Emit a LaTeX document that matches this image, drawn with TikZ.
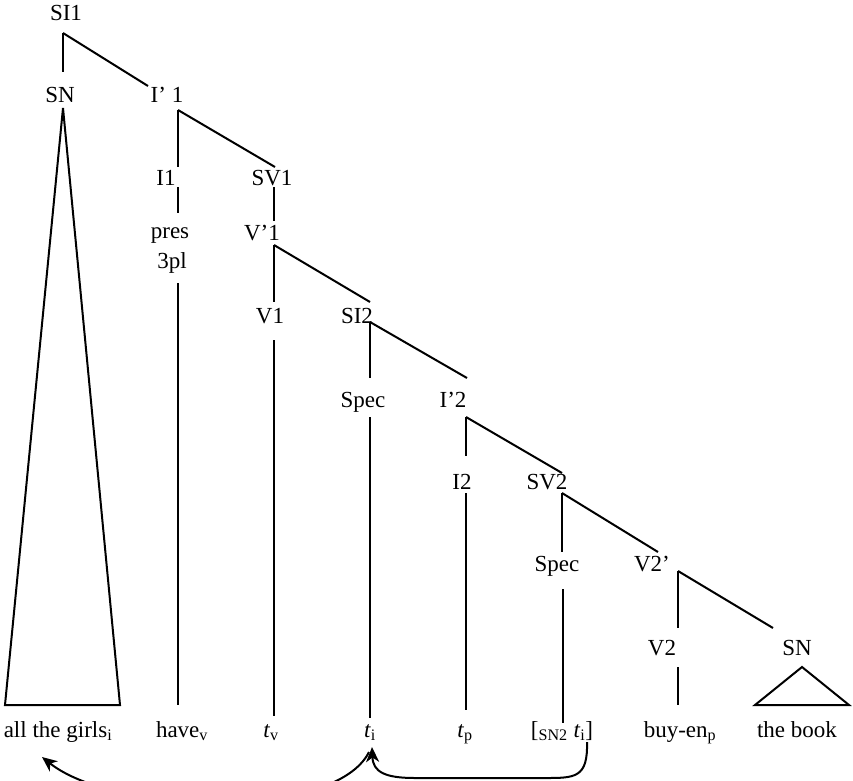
\documentclass[tikz,border=0pt]{standalone}
\usepackage{fontspec}
\setmainfont{Liberation Serif}
\usetikzlibrary{arrows.meta}
\begin{document}
\begin{tikzpicture}[x=1pt,y=-1pt,
  lab/.style={anchor=base,inner sep=0pt,font=\fontsize{23}{26}\selectfont},
  br/.style={line width=2pt},
  mv/.style={line width=2pt,-{Stealth[length=15pt,width=13pt,inset=4.5pt]}}]
\useasboundingbox (0,0) rectangle (853,780);
% labels
\node[lab] (SI1) at (66,20) {SI1};
\node[lab] (SN1) at (60,102) {SN};
\node[lab] (Ib1) at (167,102) {I’ 1};
\node[lab] (I1) at (166,185) {I1};
\node[lab] (SV1) at (272,185) {SV1};
\node[lab] (pres) at (170,238) {pres};
\node[lab] (pl) at (172,268) {3pl};
\node[lab] (Vb1) at (262,240) {V’1};
\node[lab] (V1) at (270,323) {V1};
\node[lab] (SI2) at (357,323) {SI2};
\node[lab] (Spec1) at (363,407) {Spec};
\node[lab] (Ib2) at (453,407) {I’2};
\node[lab] (I2) at (462,489) {I2};
\node[lab] (SV2) at (547,489) {SV2};
\node[lab] (Spec2) at (557,571) {Spec};
\node[lab] (Vb2) at (652,571) {V2’};
\node[lab] (V2) at (662,655) {V2};
\node[lab] (SN3) at (797,655) {SN};
% leaves
\node[lab] (girls) at (58,737) {all the girls\textsubscript{i}};
\node[lab] (have) at (182,737) {have\textsubscript{v}};
\node[lab] (tv) at (271,737) {\textit{t}\textsubscript{v}};
\node[lab] (ti) at (370,737) {\textit{t}\textsubscript{i}};
\node[lab] (tp) at (465,737) {\textit{t}\textsubscript{p}};
\node[lab] (sn2) at (562,737) {[\textsubscript{SN2} \textit{t}\textsubscript{i}]};
\node[lab] (buy) at (680,737) {buy-en\textsubscript{p}};
\node[lab] (book) at (797,737) {the book};
% branch points
\coordinate (SI1d) at (63,33);
\coordinate (SN1u) at (63,72);
\coordinate (SN1d) at (63,108);
\coordinate (SN1l) at (5,705);
\coordinate (SN1r) at (120,705);
\coordinate (Ib1u) at (148,86);
\coordinate (Ib1d) at (178,110);
\coordinate (I1u) at (178,167);
\coordinate (SV1u) at (275,167);
\coordinate (I1d) at (178,187);
\coordinate (presu) at (178,213);
\coordinate (pld) at (178,283);
\coordinate (haveu) at (178,705);
\coordinate (SV1d) at (274,187);
\coordinate (Vb1u) at (274,221);
\coordinate (Vb1d) at (274,245);
\coordinate (V1u) at (274,302);
\coordinate (SI2u) at (370,302);
\coordinate (V1d) at (274,340);
\coordinate (tvu) at (274,716);
\coordinate (SI2d) at (370,322);
\coordinate (Spec1u) at (370,378);
\coordinate (Ib2u) at (467,378);
\coordinate (Spec1d) at (370,417);
\coordinate (tiu) at (370,718);
\coordinate (Ib2d) at (466,417);
\coordinate (I2u) at (466,456);
\coordinate (SV2u) at (562,473);
\coordinate (I2d) at (466,493);
\coordinate (tpu) at (466,710);
\coordinate (SV2d) at (562,493);
\coordinate (Spec2u) at (562,552);
\coordinate (Vb2u) at (658,552);
\coordinate (Spec2d) at (563,589);
\coordinate (sn2u) at (563,723);
\coordinate (Vb2d) at (678,571);
\coordinate (V2u) at (678,628);
\coordinate (SN3u) at (773,628);
\coordinate (V2d) at (678,667);
\coordinate (buyu) at (678,705);
\coordinate (SN3d) at (802,667);
\coordinate (SN3l) at (755,705);
\coordinate (SN3r) at (849,705);
% branches
\draw[br] (SI1d) -- (SN1u);
\draw[br] (SI1d) -- (Ib1u);
\draw[br] (SN1l) -- (SN1d) -- (SN1r) -- cycle;
\draw[br] (Ib1d) -- (I1u);
\draw[br] (Ib1d) -- (SV1u);
\draw[br] (I1d) -- (presu);
\draw[br] (pld) -- (haveu);
\draw[br] (SV1d) -- (Vb1u);
\draw[br] (Vb1d) -- (V1u);
\draw[br] (Vb1d) -- (SI2u);
\draw[br] (V1d) -- (tvu);
\draw[br] (SI2d) -- (Spec1u);
\draw[br] (SI2d) -- (Ib2u);
\draw[br] (Spec1d) -- (tiu);
\draw[br] (Ib2d) -- (I2u);
\draw[br] (Ib2d) -- (SV2u);
\draw[br] (I2d) -- (tpu);
\draw[br] (SV2d) -- (Spec2u);
\draw[br] (SV2d) -- (Vb2u);
\draw[br] (Spec2d) -- (sn2u);
\draw[br] (Vb2d) -- (V2u);
\draw[br] (Vb2d) -- (SN3u);
\draw[br] (V2d) -- (buyu);
\draw[br] (SN3l) -- (SN3d) -- (SN3r) -- cycle;
% movement arrows
\coordinate (tia) at (369,752);
\coordinate (tib) at (372,747);
\coordinate (girlsa) at (42,757);
\coordinate (sn2a) at (587,742);
\draw[mv] (tia) .. controls (335,820) and (115,815) .. (girlsa);
\draw[mv] (sn2a) .. controls (588,778) and (575,778) .. (545,778) -- (415,778) .. controls (385,778) and (373,772) .. (tib);
\end{tikzpicture}
\end{document}
